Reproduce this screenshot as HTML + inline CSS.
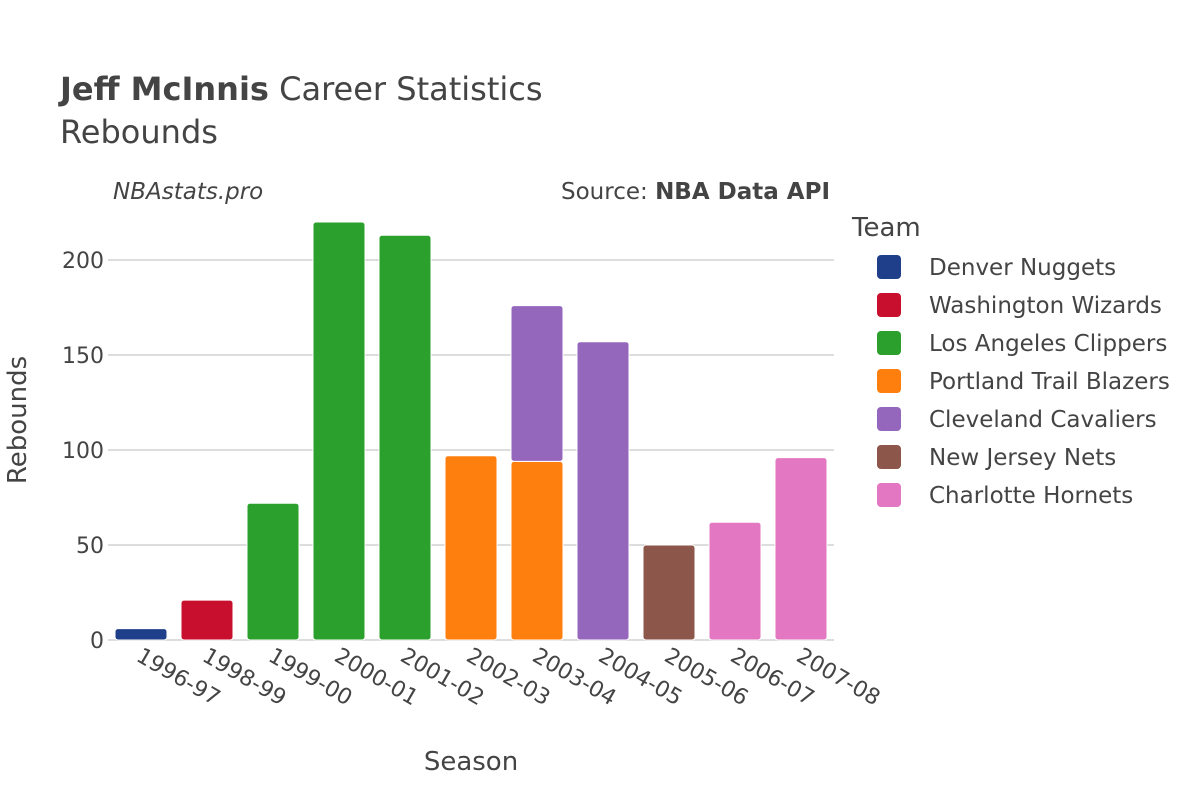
<!DOCTYPE html>
<html><head><meta charset="utf-8"><style>
body{margin:0;background:#fff;font-family:"DejaVu Sans","Liberation Sans",sans-serif;}
svg text{font-family:"DejaVu Sans","Liberation Sans",sans-serif;fill:#444;}
</style></head><body>
<svg id="chart" width="1200" height="800">
<text x="60" y="100" font-size="32"><tspan font-weight="bold">Jeff McInnis</tspan> Career Statistics</text>
<text x="60" y="143" font-size="32">Rebounds</text>
<text x="113" y="199" font-size="23" font-style="italic">NBAstats.pro</text>
<text x="830" y="199" font-size="23" text-anchor="end">Source: <tspan font-weight="bold">NBA Data API</tspan></text>
<text x="26" y="420" font-size="26" text-anchor="middle" transform="rotate(-90 26 420)">Rebounds</text>
<text x="471" y="770" font-size="26" text-anchor="middle">Season</text>
<g id="grid"></g><g id="bars"></g><g id="xt"></g>
<text x="852" y="236" font-size="26">Team</text>
<g id="legend"></g>
</svg>
<script>
const seasons=["1996-97","1998-99","1999-00","2000-01","2001-02","2002-03","2003-04","2004-05","2005-06","2006-07","2007-08"];
const teams=["Denver Nuggets","Washington Wizards","Los Angeles Clippers","Portland Trail Blazers","Cleveland Cavaliers","New Jersey Nets","Charlotte Hornets"];
const colors=["#1f3f8a","#c8102e","#2ca02c","#ff7f0e","#9467bd","#8c564b","#e377c2"];
// segments: [seasonIndex, teamIndex, value]
const segments=[[0,0,6],[1,1,21],[2,2,72],[3,2,220],[4,2,213],[5,3,97],[6,3,94],[6,4,82],[7,4,157],[8,5,50],[9,6,62],[10,6,96]];
const yTicks=[0,50,100,150,200];
const NS="http://www.w3.org/2000/svg";
const x0=108,x1=834,yb=640,ppu=1.9;
const step=(x1-x0)/seasons.length,bw=52;
const X=i=>x0+step*(i+0.5), Y=v=>yb-v*ppu;
function mk(t,a,p){const e=document.createElementNS(NS,t);for(const k in a)e.setAttribute(k,a[k]);p.appendChild(e);return e;}
const grid=document.getElementById('grid');
yTicks.forEach(v=>{
 const l=mk('line',{x1:x0,x2:x1,y1:Y(v),y2:Y(v),stroke:v?"#bbb":"#ddd","stroke-width":v?1:2},grid);
 
 
 const t=mk('text',{x:x0-4,y:Y(v)+8,"font-size":22,"text-anchor":"end"},grid);t.textContent=v;
 
 
});
const bars=document.getElementById('bars');const stack={};
segments.forEach(([s,tm,v])=>{
 const base=stack[s]||0;stack[s]=base+v;
 const p=mk('rect',{x:X(s)-bw/2,y:Y(base+v),width:bw,height:v*ppu,rx:3,fill:colors[tm],stroke:"#fff","stroke-width":1},bars);
 
 
});
const xt=document.getElementById('xt');
seasons.forEach((s,i)=>{
 const t=mk('text',{x:X(i)-6,y:yb+20,"font-size":22,transform:`rotate(30 ${X(i)-6} ${yb+20})`},xt);t.textContent=s;
 
 
});
const lg=document.getElementById('legend');
teams.forEach((n,i)=>{
 const y=267+i*38;
 const g=mk('g',{},lg);
 
 
 mk('rect',{x:877,y:y-12,width:24,height:24,rx:4,fill:colors[i]},g);
 const t=mk('text',{x:929,y:y+8,"font-size":23},g);t.textContent=n;
});
</script>
</body></html>
